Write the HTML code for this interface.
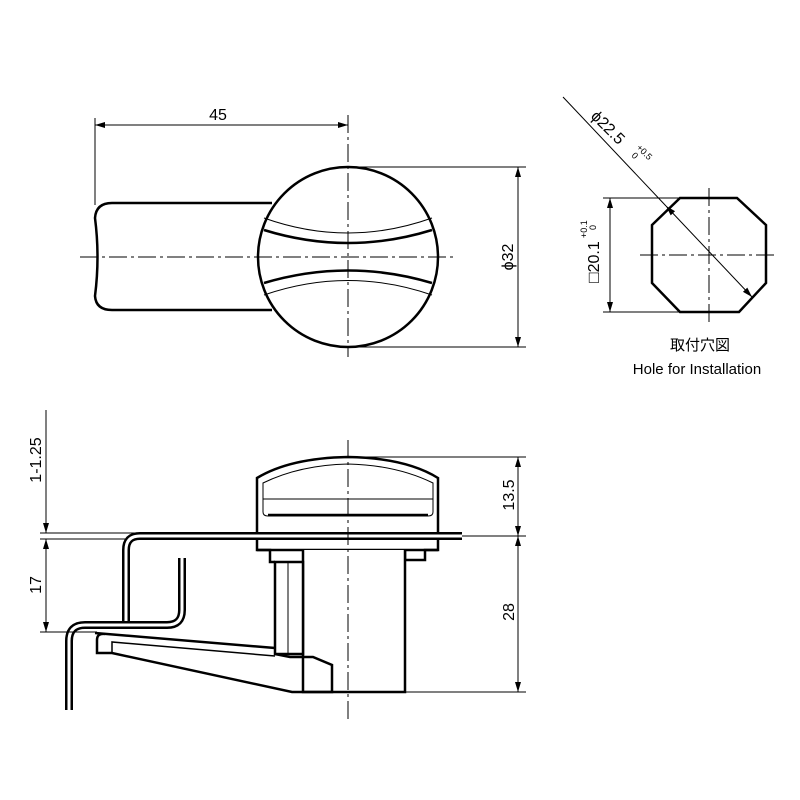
<!DOCTYPE html>
<html><head><meta charset="utf-8"><style>
html,body{margin:0;padding:0;background:#fff;width:800px;height:800px;overflow:hidden}
svg{display:block}
text{font-family:"Liberation Sans","Noto Sans CJK JP",sans-serif;fill:#000}
</style></head><body>
<svg width="800" height="800" viewBox="0 0 800 800" xmlns="http://www.w3.org/2000/svg">
<defs>
<marker id="a" viewBox="0 0 10 6" refX="10" refY="3" markerWidth="10" markerHeight="6" orient="auto-start-reverse" markerUnits="userSpaceOnUse"><path d="M0,0L10,3L0,6z" fill="#000"/></marker>
</defs>
<g fill="none" stroke="#000">
<!-- TOP VIEW -->
<path d="M272,203 H112 Q96,203 95,218 Q100,257 95,296 Q96,310 112,310 H272" stroke-width="2.5"/>
<circle cx="348" cy="257" r="90" fill="#fff" stroke-width="2.5"/>
<g stroke-width="1" stroke-dasharray="18,4,3,4">
<line x1="80" y1="257" x2="455" y2="257"/>
<line x1="348" y1="115" x2="348" y2="357"/>
</g>
<path d="M264,218 Q348,248 432,218" stroke-width="1"/>
<path d="M264,230 Q348,256 432,230" stroke-width="2.5"/>
<path d="M264,283 Q348,258 432,283" stroke-width="2.5"/>
<path d="M264,295 Q348,266 432,295" stroke-width="1"/>
<!-- dims -->
<line x1="95" y1="118" x2="95" y2="205" stroke-width="1"/>
<line x1="95" y1="125" x2="348" y2="125" stroke-width="1" marker-start="url(#a)" marker-end="url(#a)"/>
<line x1="350" y1="167" x2="526" y2="167" stroke-width="1"/>
<line x1="350" y1="347" x2="526" y2="347" stroke-width="1"/>
<line x1="518" y1="167" x2="518" y2="347" stroke-width="1" marker-start="url(#a)" marker-end="url(#a)"/>

<!-- HOLE -->
<g stroke-width="1" stroke-dasharray="18,4,3,4">
<line x1="640" y1="255" x2="778" y2="255"/>
<line x1="709" y1="188" x2="709" y2="322"/>
</g>
<path d="M680,198 H737 L766,225 V283 L739,312 H680 L652,283 V225 Z" stroke-width="2.5"/>
<line x1="603" y1="198" x2="682" y2="198" stroke-width="1"/>
<line x1="603" y1="312" x2="682" y2="312" stroke-width="1"/>
<line x1="610" y1="198" x2="610" y2="312" stroke-width="1" marker-start="url(#a)" marker-end="url(#a)"/>
<line x1="563" y1="97" x2="666" y2="206" stroke-width="1"/>
<line x1="666" y1="206" x2="752" y2="297" stroke-width="1" marker-start="url(#a)" marker-end="url(#a)"/>

<!-- SIDE VIEW -->
<!-- knob -->
<path d="M257,540 V478 Q290,458 348,457 Q406,458 438,478 V540" stroke-width="2.5" fill="#fff"/>
<path d="M263,483 Q300,465 348,464 Q396,465 433,483 V512 Q433,516 428,516 H268 Q263,516 263,512 Z" stroke-width="1"/>
<line x1="263" y1="499" x2="433" y2="499" stroke-width="1"/>
<line x1="268" y1="515" x2="428" y2="515" stroke-width="2.5"/>
<!-- panel plate + bracket A -->
<path d="M462,536 H140 Q126,536 126,550 V622" stroke-width="8"/>
<path d="M462,536 H140 Q126,536 126,550 V622" stroke="#fff" stroke-width="3"/>
<!-- flange and body -->
<path d="M257,540 V550 H270 V562 H275 M405,550 V560 H425 V550 H438 V540" stroke-width="2.5"/>
<line x1="257" y1="550" x2="438" y2="550" stroke-width="2.5"/>
<path d="M303,550 V692 H405 V550" stroke-width="2.5" fill="#fff"/>
<rect x="275" y="562" width="28" height="92" stroke-width="2.5" fill="#fff"/>
<line x1="288" y1="562" x2="288" y2="654" stroke-width="1"/>
<!-- cam -->
<path d="M95,633 L275,648 M275,654 L290,657 H313 L332,665 V692 H292 L112,653 H97 V640 Q97,633 105,634" stroke-width="2.5" fill="none"/>
<path d="M112,653 V642 L275,656" stroke-width="1.5"/>
<!-- bracket B -->
<path d="M182,558 V610 Q182,625 167,625 H85 Q69,625 69,641 V710" stroke-width="8"/>
<path d="M182,558 V610 Q182,625 167,625 H85 Q69,625 69,641 V710" stroke="#fff" stroke-width="3"/>
<line x1="348" y1="440" x2="348" y2="722" stroke-width="1" stroke-dasharray="18,4,3,4"/>
<!-- left dims -->
<line x1="40" y1="533" x2="140" y2="533" stroke-width="1"/>
<line x1="40" y1="539" x2="126" y2="539" stroke-width="1"/>
<line x1="40" y1="632" x2="97" y2="632" stroke-width="1"/>
<line x1="46" y1="410" x2="46" y2="533" stroke-width="1" marker-end="url(#a)"/>
<line x1="46" y1="539" x2="46" y2="632" stroke-width="1" marker-start="url(#a)" marker-end="url(#a)"/>
<!-- right dims -->
<line x1="350" y1="457" x2="526" y2="457" stroke-width="1"/>
<line x1="462" y1="536" x2="526" y2="536" stroke-width="1"/>
<line x1="405" y1="692" x2="526" y2="692" stroke-width="1"/>
<line x1="518" y1="457" x2="518" y2="536" stroke-width="1" marker-start="url(#a)" marker-end="url(#a)"/>
<line x1="518" y1="536" x2="518" y2="692" stroke-width="1" marker-start="url(#a)" marker-end="url(#a)"/>
</g>
<g font-size="16">
<text x="218" y="120" text-anchor="middle">45</text>
<text transform="translate(513,257) rotate(-90)" text-anchor="middle">ϕ32</text>
<text transform="translate(514,495) rotate(-90)" text-anchor="middle">13.5</text>
<text transform="translate(514,612) rotate(-90)" text-anchor="middle">28</text>
<text transform="translate(41,460) rotate(-90)" text-anchor="middle">1-1.25</text>
<text transform="translate(41,585) rotate(-90)" text-anchor="middle">17</text>
<text transform="translate(599,262) rotate(-90)" text-anchor="middle"><tspan font-size="17">□</tspan>20.1</text>
<text transform="translate(587,238) rotate(-90)" font-size="9">+0.1</text>
<text transform="translate(596,230) rotate(-90)" font-size="9">0</text>
<text transform="translate(590,117) rotate(45)">ϕ22.5</text>
<text transform="translate(636,148) rotate(45)" font-size="9">+0.5</text>
<text transform="translate(631,156) rotate(45)" font-size="9">0</text>
<text x="700" y="350" text-anchor="middle" font-size="15">取付穴図</text>
<text x="697" y="374" text-anchor="middle" font-size="15">Hole for Installation</text>
</g>
</svg>
</body></html>
